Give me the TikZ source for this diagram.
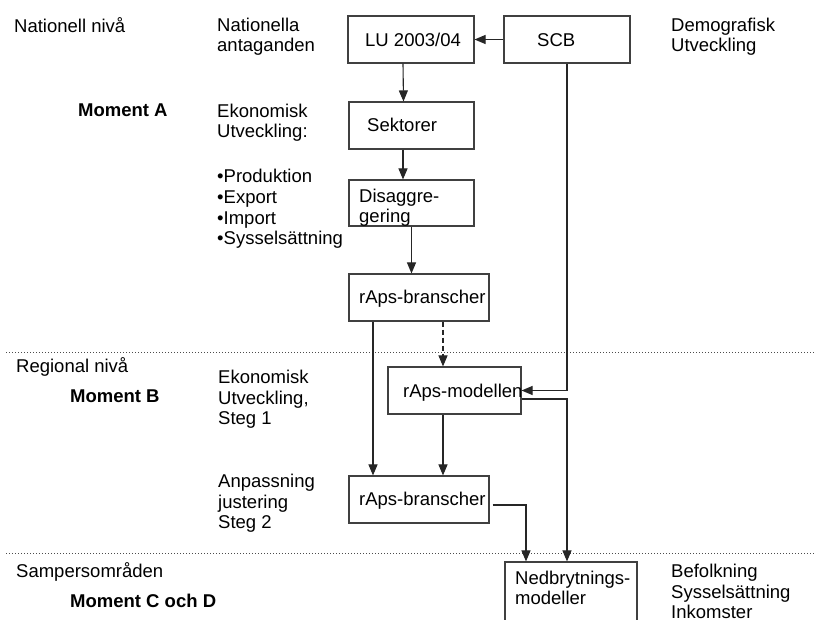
\documentclass[tikz,border=0pt]{standalone}
\usepackage{fontspec}
\setmainfont{Liberation Sans}
\usepackage{tikz}
\usetikzlibrary{arrows.meta,positioning,calc}

\begin{document}
\begin{tikzpicture}[x=1pt,y=-1pt,
	box/.style={draw=black!75,line width=1.1pt,minimum height=47pt,inner sep=0pt},
	txt/.style={anchor=base west,align=left,inner sep=0pt,font=\fontsize{18.5}{20.7}\selectfont},
	moment/.style={txt,font=\fontsize{18.5}{20.7}\selectfont\bfseries},
	arr/.style={-{Triangle[length=11pt,width=9pt]},line width=1.1pt,black!85},
	level/.style={black!70,line width=0.9pt,dash pattern=on 1pt off 2pt}]
	\useasboundingbox (0,0) rectangle (815,620);
	\clip (0,0) rectangle (815,620);
	\draw[level] (6,352) -- (815,352);
	\draw[level] (6,553.5) -- (815,553.5);
	\node[box,minimum width=126pt] (lu) at (411,39.5) {};
	\node[box,minimum width=126pt] (scb) at (567,39.5) {};
	\node[box,minimum width=125pt] (sek) at (411.5,125.5) {};
	\node[box,minimum width=125pt,minimum height=46pt] (dis) at (411.5,203) {};
	\node[box,minimum width=140pt] (rb1) at (419,297.5) {};
	\node[box,minimum width=133pt] (rm) at (454.5,390.5) {};
	\node[box,minimum width=140pt] (rb2) at (419,499.5) {};
	\node[box,minimum width=132pt,minimum height=70pt] (ned) at (571,597) {};
	\draw[arr] (scb.west) -- (lu.east);
	\draw[arr] ([xshift=-8pt]lu.south) -- ([xshift=-8pt]sek.north);
	\draw[arr] ([xshift=-8.5pt]sek.south) -- ([xshift=-8.5pt]dis.north);
	\draw[arr] (dis.south) -- (dis.south |- rb1.north);
	\draw[arr,dash pattern=on 5pt off 3pt] ([xshift=-11.5pt]rm.north |- rb1.south) -- ([xshift=-11.5pt]rm.north);
	\draw[arr] (scb.south) |- (rm.east);
	\draw[arr] ([yshift=-8.5pt]rm.east) -| ([xshift=-4pt]ned.north);
	\draw[arr] ([xshift=-46pt]rb1.south) -- ([xshift=-46pt]rb2.north);
	\draw[arr] ([xshift=-11.5pt]rm.south) -- ([xshift=-11.5pt]rm.south |- rb2.north);
	\draw[arr] ([shift={(3pt,-5.5pt)}]rb2.east) -| ([xshift=-45pt]ned.north);
	\node[txt] (lut) at (365,47) {LU 2003/04};
	\node[txt] (scbt) at (537,47) {SCB};
	\node[txt] (sekt) at (367,132) {Sektorer};
	\node[txt] (dist) at (359,223) {Disaggre-\\gering};
	\node[txt] (rb1t) at (359,304) {rAps-branscher};
	\node[txt] (rmt) at (403,398) {rAps-modellen};
	\node[txt] (rb2t) at (359,506) {rAps-branscher};
	\node[txt] (nedt) at (515,605) {Nedbrytnings-\\modeller};
	\node[txt] (nat) at (14,33) {Nationell nivå};
	\node[txt] (natant) at (217,52) {Nationella\\antaganden};
	\node[txt] (demo) at (671,52) {Demografisk\\Utveckling};
	\node[moment] (ma) at (78,117) {Moment A};
	\node[txt] (ekoa) at (217,138) {Ekonomisk\\Utveckling:};
	\node[txt] (lista) at (217,245) {•Produktion\\•Export\\•Import\\•Sysselsättning};
	\node[txt] (reg) at (16,373) {Regional nivå};
	\node[moment] (mb) at (70,403) {Moment B};
	\node[txt] (ekob) at (218,425) {Ekonomisk\\Utveckling,\\Steg 1};
	\node[txt] (anp) at (218,529) {Anpassning\\justering\\Steg 2};
	\node[txt] (samp) at (16,577) {Sampersområden};
	\node[moment] (mcd) at (70,607) {Moment C och D};
	\node[txt] (bef) at (671,619) {Befolkning\\Sysselsättning\\Inkomster};
\end{tikzpicture}
\end{document}
